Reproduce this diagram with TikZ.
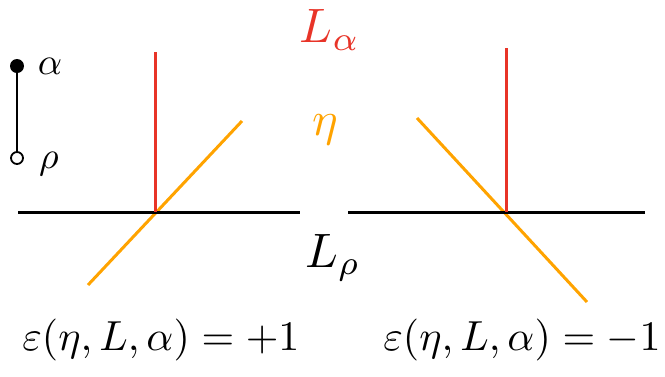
\documentclass[tikz,border=0pt]{standalone}
\definecolor{lred}{RGB}{232,52,40}
\definecolor{lorange}{RGB}{255,163,0}
\begin{document}
\begin{tikzpicture}[x=1pt,y=-1pt,
  ln/.style={line width=3pt},
  lbl/.style={inner sep=0pt,scale=4.2}]
\useasboundingbox (0,0) rectangle (665,376);
% legend
\coordinate (pa) at (17,66);
\coordinate (pr) at (17,158);
\draw[line width=2pt] (pa) -- (pr);
\fill (pa) circle (7);
\draw[line width=1.8pt,fill=white] (pr) circle (6);
\node[lbl,scale=0.9] (ta) at (50,66) {$\alpha$};
\node[lbl,scale=0.9] (tr) at (49,164) {$\rho$};
% left diagram
\coordinate (h1a) at (18,212);
\coordinate (h1b) at (300,212);
\coordinate (v1a) at (155,52);
\coordinate (v1b) at (155,212);
\coordinate (o1a) at (88,285);
\coordinate (o1b) at (242,121);
\draw[ln,lorange] (o1a) -- (o1b);
\draw[ln] (h1a) -- (h1b);
\draw[ln,lred] (v1a) -- (v1b);
% right diagram
\coordinate (h2a) at (348,212);
\coordinate (h2b) at (645,212);
\coordinate (v2a) at (506,48);
\coordinate (v2b) at (506,212);
\coordinate (o2a) at (417,118);
\coordinate (o2b) at (587,302);
\draw[ln,lorange] (o2a) -- (o2b);
\draw[ln] (h2a) -- (h2b);
\draw[ln,lred] (v2a) -- (v2b);
% labels
\node[lbl,lred,scale=1.15] (la) at (330,30) {$L_{\alpha}$};
\node[lbl,lorange,scale=1.15] (eta) at (325,130) {$\eta$};
\node[lbl,scale=1.15] (lr) at (333,258) {$L_{\rho}$};
\node[lbl] (f1) at (161,340) {$\varepsilon(\eta,L,\alpha)=+1$};
\node[lbl] (f2) at (522,340) {$\varepsilon(\eta,L,\alpha)=-1$};
\end{tikzpicture}
\end{document}
